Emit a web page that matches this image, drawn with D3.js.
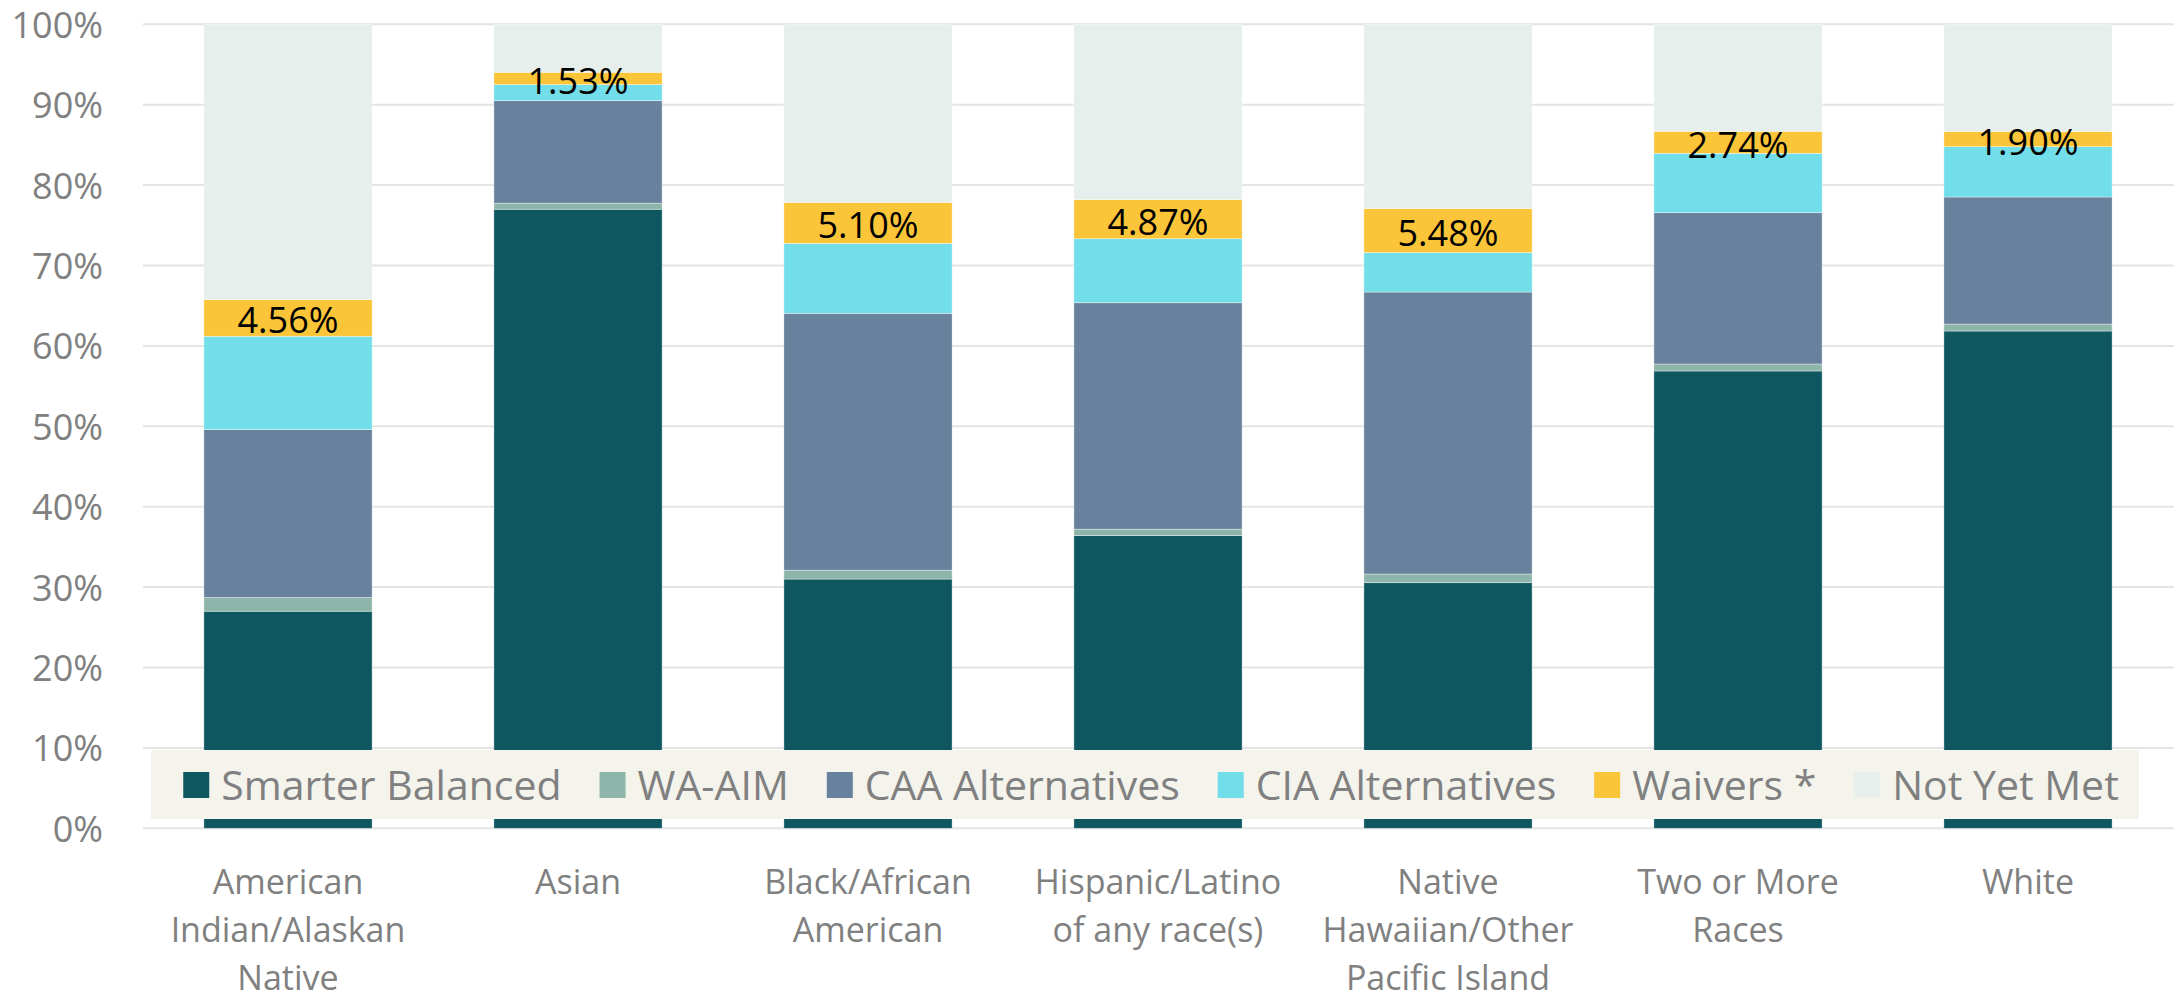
<!DOCTYPE html>
<meta charset="utf-8">
<style>
    body { margin: 0; background: #fff; }
    text { font-family: "Open Sans", sans-serif; }
</style>
<body>
    <script src="https://d3js.org/d3.v7.min.js"></script>
    <script>
        let width = 2176;
        let height = 1000;

        // categories (one array of lines per bar)
        let categories = ["AIAN", "Asian", "Black", "Hispanic", "NHPI", "TwoOrMore", "White"];
        let categoryLines = [
            ["American", "Indian/Alaskan", "Native"],
            ["Asian"],
            ["Black/African", "American"],
            ["Hispanic/Latino", "of any race(s)"],
            ["Native", "Hawaiian/Other", "Pacific Island"],
            ["Two or More", "Races"],
            ["White"]
        ];

        // series values, percent
        let smarterBalanced = [27.0, 77.0, 31.0, 36.4, 30.55, 56.88, 61.85];
        let waAim           = [1.7, 0.75, 1.1, 0.8, 1.08, 0.87, 0.87];
        let caaAlternatives = [20.9, 12.75, 31.95, 28.17, 35.07, 18.82, 15.8];
        let ciaAlternatives = [11.6, 2.0, 8.7, 7.96, 4.9, 7.38, 6.26];
        let waivers         = [4.56, 1.53, 5.10, 4.87, 5.48, 2.74, 1.90];
        let notYetMet       = [34.24, 5.97, 22.15, 21.8, 22.92, 13.31, 13.32];

        let seriesNames = ["Smarter Balanced", "WA-AIM", "CAA Alternatives", "CIA Alternatives", "Waivers *", "Not Yet Met"];
        let seriesValues = [smarterBalanced, waAim, caaAlternatives, ciaAlternatives, waivers, notYetMet];
        let colors = ["#0e5660", "#8db5aa", "#68819c", "#71dee9", "#fbc53a", "#e6efec"];

        let yTicks = [0, 10, 20, 30, 40, 50, 60, 70, 80, 90, 100];

        // build rows for d3.stack
        let rows = categories.map(function(c, i){
            let r = {cat: c};
            seriesNames.forEach(function(s, j){ r[s] = seriesValues[j][i]; });
            return r;
        });

        let svg = d3.select("body").append("svg")
            .attr("width", width)
            .attr("height", height);

        let x = d3.scaleBand()
            .domain(categories)
            .range([143, 2173])
            .paddingInner(0.42)
            .paddingOuter(0.21);

        let y = d3.scaleLinear()
            .domain([0, 100])
            .range([828.3, 24.3]);

        let color = d3.scaleOrdinal(seriesNames, colors);

        // gridlines
        svg.append("g")
            .selectAll("line")
            .data(yTicks)
            .join("line")
                .attr("x1", 143)
                .attr("x2", 2174)
                .attr("y1", d => y(d))
                .attr("y2", d => y(d))
                .attr("stroke", "#e4e4e4")
                .attr("stroke-width", 2);

        // y axis labels
        svg.append("g")
            .selectAll("text")
            .data(yTicks)
            .join("text")
                .attr("x", 103)
                .attr("y", d => y(d))
                .attr("text-anchor", "end")
                .attr("dominant-baseline", "central")
                .style("font-size", "36px")
                .attr("fill", "#808080")
                .text(d => d + "%");

        // stacked bars
        let stacked = d3.stack().keys(seriesNames)(rows);

        svg.append("g")
            .selectAll("g")
            .data(stacked)
            .join("g")
                .attr("fill", d => color(d.key))
            .selectAll("rect")
            .data(d => d)
            .join("rect")
                .attr("x", d => x(d.data.cat))
                .attr("width", x.bandwidth())
                .attr("y", d => y(d[1]))
                .attr("height", d => y(d[0]) - y(d[1]))
                .attr("stroke", "#ffffff")
                .attr("stroke-opacity", 0.5)
                .attr("stroke-width", 0.75);

        // waiver labels
        let waiverLayer = stacked.find(s => s.key === "Waivers *");
        svg.append("g")
            .selectAll("text")
            .data(waiverLayer)
            .join("text")
                .attr("x", d => x(d.data.cat) + x.bandwidth() / 2)
                .attr("y", d => (y(d[0]) + y(d[1])) / 2 + 2)
                .attr("text-anchor", "middle")
                .attr("dominant-baseline", "central")
                .style("font-size", "36px")
                .attr("fill", "#000")
                .text(d => (d[1] - d[0]).toFixed(2) + "%");

        // category labels
        let catLabels = svg.append("g")
            .selectAll("text")
            .data(categories)
            .join("text")
                .attr("text-anchor", "middle")
                .style("font-size", "34px")
                .attr("fill", "#808080");
        catLabels.each(function(c, i){
            d3.select(this).selectAll("tspan")
                .data(categoryLines[i])
                .join("tspan")
                    .attr("x", x(c) + x.bandwidth() / 2)
                    .attr("y", (d, k) => 894 + k * 48)
                    .text(d => d);
        });

        // legend box, drawn over the bars
        let legend = svg.append("g");
        legend.append("rect")
            .attr("x", 151)
            .attr("y", 750)
            .attr("width", 1988)
            .attr("height", 69)
            .attr("fill", "#f4f3ec");

        let items = legend.append("g");
        let cursor = 0;
        seriesNames.forEach(function(s){
            let item = items.append("g").attr("transform", "translate(" + cursor + ",0)");
            item.append("rect")
                .attr("x", 0)
                .attr("y", 772)
                .attr("width", 26)
                .attr("height", 26)
                .attr("fill", color(s));
            let t = item.append("text")
                .attr("x", 38)
                .attr("y", 784)
                .attr("dominant-baseline", "central")
                .style("font-size", "41px")
                .attr("fill", "#808080")
                .text(s);
            cursor += 38 + t.node().getComputedTextLength() + 38;
        });
        let itemsWidth = cursor - 38;
        items.attr("transform", "translate(" + (1151 - itemsWidth / 2) + ",0)");
    </script>
</body>
